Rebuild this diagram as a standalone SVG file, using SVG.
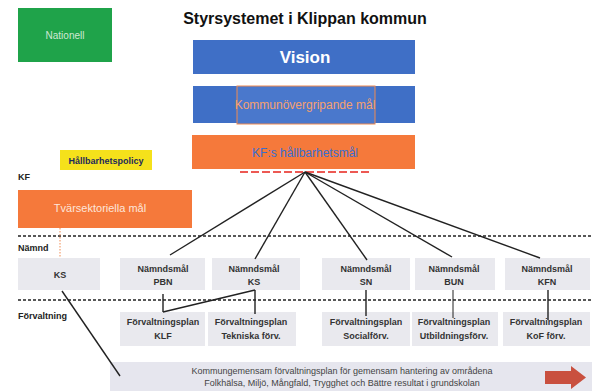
<svg xmlns="http://www.w3.org/2000/svg" width="592" height="391" viewBox="0 0 592 391">
<style>
text{font-family:"Liberation Sans",Arial,sans-serif}
.lbl{font-size:9px;font-weight:bold;fill:#222}
.nb{fill:#e9e9ee}
.nt{font-size:9px;font-weight:bold;fill:#333;text-anchor:middle}
.dash{stroke:#222;stroke-width:1.5;stroke-dasharray:3,2;fill:none}
.con{stroke:#222;stroke-width:1.4;fill:none}
</style>
<rect width="592" height="391" fill="#fff"/>
<g id="green"><rect x="18" y="8" width="94" height="54" fill="#1fa34a"/><text x="65" y="39" font-size="10" fill="#cfe8d4" text-anchor="middle">Nationell</text></g>
<text id="title" x="305" y="24" font-size="16" font-weight="bold" text-anchor="middle" fill="#111">Styrsystemet i Klippan kommun</text>
<g id="vision"><rect x="193" y="40" width="222" height="34" fill="#3f6fc6"/><text x="305" y="63" font-size="17" font-weight="bold" fill="#fff" text-anchor="middle">Vision</text></g>
<g id="kommun"><rect x="193" y="86" width="222" height="37" fill="#3f6fc6"/><rect x="237" y="86" width="138" height="38" fill="#4a78cc" stroke="#f08a50" stroke-width="1"/><text x="305" y="109" font-size="12" fill="#f5a070" text-anchor="middle">Kommunövergripande mål</text></g>
<g id="hallbarhetsmal"><rect x="192" y="135" width="223" height="34" fill="#f5793b"/><text x="305" y="157" font-size="12" fill="#3a6ed0" text-anchor="middle">KF:s hållbarhetsmål</text></g>
<g id="policy"><rect x="60" y="150" width="92" height="20" fill="#f5e11b"/><text x="106" y="164" font-size="9" font-weight="bold" fill="#1d2a5a" text-anchor="middle">Hållbarhetspolicy</text></g>
<text x="18" y="180" class="lbl">KF</text>
<g id="tvarsektoriella"><rect x="18" y="190" width="174" height="38" fill="#f5793b"/><text x="100" y="212" font-size="11" fill="#fde6da" text-anchor="middle">Tvärsektoriella mål</text></g>
<text x="18" y="251" class="lbl">Nämnd</text>
<text x="18" y="319" class="lbl">Förvaltning</text>
<g id="n-ks"><rect class="nb" x="18" y="258" width="82" height="32"/><text class="nt" x="60" y="278">KS</text></g>
<g id="n-pbn"><rect class="nb" x="120" y="258" width="85" height="32"/><text class="nt" x="163" y="272">Nämndsmål</text><text class="nt" x="163" y="285">PBN</text></g>
<g id="n-ks2"><rect class="nb" x="212" y="258" width="88" height="32"/><text class="nt" x="254" y="272">Nämndsmål</text><text class="nt" x="254" y="285">KS</text></g>
<g id="n-sn"><rect class="nb" x="322" y="258" width="88" height="32"/><text class="nt" x="366" y="272">Nämndsmål</text><text class="nt" x="366" y="285">SN</text></g>
<g id="n-bun"><rect class="nb" x="415" y="258" width="80" height="32"/><text class="nt" x="454" y="272">Nämndsmål</text><text class="nt" x="454" y="285">BUN</text></g>
<g id="n-kfn"><rect class="nb" x="505" y="258" width="85" height="32"/><text class="nt" x="547" y="272">Nämndsmål</text><text class="nt" x="547" y="285">KFN</text></g>
<g id="f-klf"><rect class="nb" x="120" y="312" width="85" height="34"/><text class="nt" x="163" y="325">Förvaltningsplan</text><text class="nt" x="163" y="339">KLF</text></g>
<g id="f-tek"><rect class="nb" x="208" y="312" width="88" height="34"/><text class="nt" x="251" y="325">Förvaltningsplan</text><text class="nt" x="251" y="339">Tekniska förv.</text></g>
<g id="f-soc"><rect class="nb" x="322" y="312" width="88" height="34"/><text class="nt" x="366" y="325">Förvaltningsplan</text><text class="nt" x="366" y="339">Socialförv.</text></g>
<g id="f-utb"><rect class="nb" x="412" y="312" width="86" height="34"/><text class="nt" x="454" y="325">Förvaltningsplan</text><text class="nt" x="454" y="339">Utbildningsförv.</text></g>
<g id="f-kof"><rect class="nb" x="503" y="312" width="87" height="34"/><text class="nt" x="546" y="325">Förvaltningsplan</text><text class="nt" x="546" y="339">KoF förv.</text></g>
<g id="bottom"><rect x="110" y="362" width="482" height="29" fill="#e6e6ee"/><text x="342" y="374" font-size="9" fill="#444" text-anchor="middle">Kommungemensam förvaltningsplan för gemensam hantering av områdena</text><text x="342" y="386" font-size="9" fill="#444" text-anchor="middle">Folkhälsa, Miljö, Mångfald, Trygghet och Bättre resultat i grundskolan</text><path d="M545 371H571V366L586 377.5L571 389V384H545Z" fill="#c9503f"/></g>
<g id="connectors">
<line class="dash" x1="18" y1="236" x2="592" y2="236"/>
<line class="dash" x1="18" y1="300" x2="592" y2="300"/>
<line x1="240" y1="172" x2="370" y2="172" stroke="#e8231b" stroke-width="1.5" stroke-dasharray="8,3"/>
<line x1="60" y1="228" x2="60" y2="258" stroke="#f08a50" stroke-width="1" stroke-dasharray="1.5,1.5"/>
<line class="con" x1="305" y1="172" x2="170" y2="255"/>
<line class="con" x1="305" y1="172" x2="255" y2="259"/>
<line class="con" x1="305" y1="172" x2="367" y2="260"/>
<line class="con" x1="305" y1="172" x2="452" y2="257"/>
<line class="con" x1="305" y1="172" x2="540" y2="258"/>
<line class="con" x1="163" y1="294" x2="163" y2="312"/>
<line class="con" x1="255" y1="290" x2="163" y2="312"/>
<line class="con" x1="255" y1="290" x2="255" y2="314"/>
<line class="con" x1="366" y1="290" x2="366" y2="316"/>
<line x1="453" y1="290" x2="453" y2="318" stroke="#222" stroke-width="1"/>
<line class="con" x1="548" y1="290" x2="548" y2="320"/>
<line class="con" x1="62" y1="291" x2="120" y2="376"/>
</g>
</svg>
